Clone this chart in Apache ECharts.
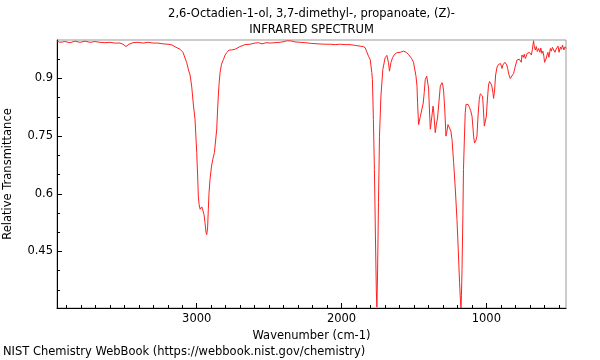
<!DOCTYPE html>
<html>
<head>
<meta charset="utf-8">
<script src="https://cdn.jsdelivr.net/npm/echarts@6/dist/echarts.min.js"></script>
<style>html,body{margin:0;padding:0;background:#fff}#c{width:600px;height:360px}</style>
</head>
<body>
<div id="c"></div>
<script>
const titleLine1 = '2,6-Octadien-1-ol, 3,7-dimethyl-, propanoate, (Z)-';
const titleLine2 = 'INFRARED SPECTRUM';
const xName = 'Wavenumber (cm-1)';
const yName = 'Relative Transmittance';
const footer = 'NIST Chemistry WebBook (https://webbook.nist.gov/chemistry)';

const xMajorTicks = [1000, 2000, 3000];
const xMinorTicks = [500,600,700,800,900,1100,1200,1300,1400,1500,1600,1700,1800,1900,2100,2200,2300,2400,2500,2600,2700,2800,2900,3100,3200,3300,3400,3500,3600,3700,3800,3900];
const yMajorTicks = [0.45, 0.6, 0.75, 0.9];
const yMinorTicks = [0.35, 0.4, 0.5, 0.55, 0.65, 0.7, 0.8, 0.85, 0.95];
const xRange = [450, 3965];
const yRange = [0.303, 1.0];

const wavenumber = [3963,3945,3910,3875,3840,3806,3771,3737,3703,3668,3634,3599,3565,3530,3509,3489,3468,3440,3406,3371,3337,3302,3268,3233,3198,3171,3143,3115,3095,3069,3057,3046,3035,3023,3012,3000,2994,2989,2984,2977,2972,2965,2960,2954,2950,2943,2936,2931,2925,2920,2915,2908,2898,2889,2878,2869,2862,2856,2851,2846,2839,2829,2816,2804,2791,2777,2770,2759,2747,2735,2724,2701,2666,2632,2597,2574,2549,2521,2493,2459,2424,2397,2376,2362,2341,2321,2286,2251,2205,2162,2113,2079,2044,2009,1975,1941,1906,1872,1851,1837,1825,1814,1802,1791,1787,1780,1773,1766,1760,1756,1751,1745,1738,1728,1715,1699,1687,1676,1669,1659,1648,1633,1617,1595,1572,1553,1537,1526,1515,1503,1491,1486,1479,1475,1468,1456,1445,1436,1429,1422,1412,1406,1399,1393,1387,1382,1375,1368,1363,1357,1353,1346,1337,1328,1318,1306,1301,1295,1287,1279,1272,1265,1254,1245,1237,1226,1214,1203,1194,1185,1178,1175,1172,1168,1162,1158,1151,1146,1140,1134,1125,1116,1108,1099,1094,1088,1082,1076,1071,1065,1057,1049,1042,1037,1032,1026,1021,1014,1007,1000,993,985,978,973,966,961,955,950,943,936,926,917,903,896,892,886,881,872,864,859,853,845,835,824,812,800,788,779,772,766,759,754,745,738,731,724,719,710,703,696,689,682,674,669,662,655,648,639,630,624,616,610,603,598,593,586,581,575,568,558,551,544,535,526,519,511,505,498,488,481,474,465,457,450];
const transmittance = [0.997,0.994,0.996,0.993,0.997,0.994,0.997,0.994,0.996,0.994,0.993,0.994,0.992,0.992,0.989,0.983,0.989,0.993,0.994,0.992,0.994,0.992,0.992,0.990,0.989,0.987,0.981,0.976,0.968,0.941,0.922,0.909,0.880,0.831,0.794,0.707,0.649,0.594,0.573,0.560,0.558,0.566,0.568,0.561,0.547,0.525,0.500,0.494,0.511,0.560,0.604,0.638,0.672,0.690,0.707,0.711,0.768,0.818,0.854,0.885,0.915,0.937,0.949,0.961,0.968,0.974,0.975,0.974,0.971,0.976,0.980,0.983,0.988,0.989,0.992,0.993,0.990,0.993,0.992,0.993,0.994,0.996,0.998,0.998,0.997,0.995,0.994,0.993,0.991,0.990,0.989,0.989,0.988,0.989,0.988,0.988,0.986,0.984,0.983,0.980,0.975,0.958,0.949,0.915,0.897,0.793,0.663,0.490,0.350,0.305,0.402,0.577,0.750,0.854,0.923,0.954,0.960,0.941,0.919,0.941,0.954,0.963,0.967,0.968,0.971,0.968,0.962,0.958,0.951,0.942,0.941,0.906,0.880,0.837,0.780,0.801,0.806,0.836,0.863,0.897,0.906,0.905,0.875,0.818,0.768,0.763,0.805,0.828,0.812,0.779,0.759,0.779,0.797,0.836,0.880,0.889,0.883,0.867,0.818,0.750,0.763,0.780,0.776,0.763,0.741,0.681,0.610,0.533,0.454,0.369,0.316,0.303,0.336,0.403,0.545,0.663,0.753,0.811,0.833,0.837,0.832,0.824,0.816,0.802,0.779,0.750,0.732,0.728,0.740,0.750,0.805,0.845,0.860,0.863,0.860,0.854,0.823,0.776,0.775,0.802,0.844,0.883,0.892,0.891,0.885,0.878,0.864,0.848,0.870,0.909,0.930,0.936,0.939,0.932,0.926,0.935,0.939,0.942,0.941,0.935,0.926,0.911,0.900,0.905,0.913,0.932,0.948,0.944,0.950,0.952,0.942,0.961,0.955,0.963,0.952,0.958,0.965,0.961,0.968,0.969,0.961,0.976,0.998,0.984,0.974,0.983,0.970,0.978,0.968,0.979,0.965,0.971,0.958,0.942,0.939,0.953,0.961,0.968,0.955,0.978,0.971,0.981,0.982,0.968,0.976,0.974,0.984,0.968,0.982,0.976,0.987,0.974,0.982,0.978];

const chart = echarts.init(document.getElementById('c'), null, {renderer: 'canvas'});
const FONT = 'DejaVu Sans';
const FS = 11.5;
const data = wavenumber.map((w, i) => [w, transmittance[i]]);

const gridL = 57, gridR = 34, gridT = 40, gridB = 52;
const centerX = gridL + (600 - gridL - gridR) / 2;
const textFont = FS + 'px "DejaVu Sans"';

chart.setOption({
  animation: false,
  backgroundColor: '#fff',
  textStyle: {fontFamily: FONT},
  grid: {left: gridL, right: gridR, top: gridT, bottom: gridB, containLabel: false, outerBoundsMode: 'none',
    show: true, borderColor: '#999', borderWidth: 1, backgroundColor: 'transparent'},
  graphic: [
    {type: 'text', x: centerX, y: 8, style: {text: titleLine1, fill: '#000', font: textFont, textAlign: 'center'}},
    {type: 'text', x: centerX, y: 24, style: {text: titleLine2, fill: '#000', font: textFont, textAlign: 'center'}},
    {type: 'text', x: 3, y: 346, style: {text: footer, fill: '#000', font: textFont}}
  ],
  xAxis: [
    {
      type: 'value', inverse: true, min: xRange[0], max: xRange[1], position: 'bottom',
      name: xName, nameLocation: 'middle', nameGap: 18,
      nameTextStyle: {fontFamily: FONT, fontSize: FS, color: '#000'},
      axisLine: {show: true, onZero: false, lineStyle: {color: '#000', width: 1}},
      axisTick: {show: true, inside: true, length: 5, customValues: xMajorTicks, lineStyle: {color: '#000'}},
      axisLabel: {show: true, customValues: xMajorTicks, margin: 5, fontFamily: FONT, fontSize: FS, color: '#000',
        formatter: v => String(Math.round(v))},
      splitLine: {show: false}
    },
    {
      type: 'value', inverse: true, min: xRange[0], max: xRange[1], position: 'bottom', gridIndex: 0,
      axisLine: {show: false, onZero: false},
      axisTick: {show: true, inside: true, length: 3, customValues: xMinorTicks, lineStyle: {color: '#000'}},
      axisLabel: {show: false},
      splitLine: {show: false}
    }
  ],
  yAxis: [
    {
      type: 'value', min: yRange[0], max: yRange[1], position: 'left',
      name: yName, nameLocation: 'middle', nameGap: 43, nameRotate: 90,
      nameTextStyle: {fontFamily: FONT, fontSize: FS, color: '#000'},
      axisLine: {show: true, onZero: false, lineStyle: {color: '#000', width: 1}},
      axisTick: {show: true, inside: true, length: 5, customValues: yMajorTicks, lineStyle: {color: '#000'}},
      axisLabel: {show: true, customValues: yMajorTicks, margin: 4, fontFamily: FONT, fontSize: FS, color: '#000',
        formatter: v => String(+v.toFixed(2))},
      splitLine: {show: false}
    },
    {
      type: 'value', min: yRange[0], max: yRange[1], position: 'left', gridIndex: 0, offset: 0,
      axisLine: {show: false, onZero: false},
      axisTick: {show: true, inside: true, length: 3, customValues: yMinorTicks, lineStyle: {color: '#000'}},
      axisLabel: {show: false},
      splitLine: {show: false}
    }
  ],
  series: [{
    type: 'line', xAxisIndex: 0, yAxisIndex: 0, data: data, showSymbol: false, symbol: 'none',
    lineStyle: {color: '#ff2020', width: 1}, clip: true, silent: true
  }]
});
</script>
</body>
</html>
